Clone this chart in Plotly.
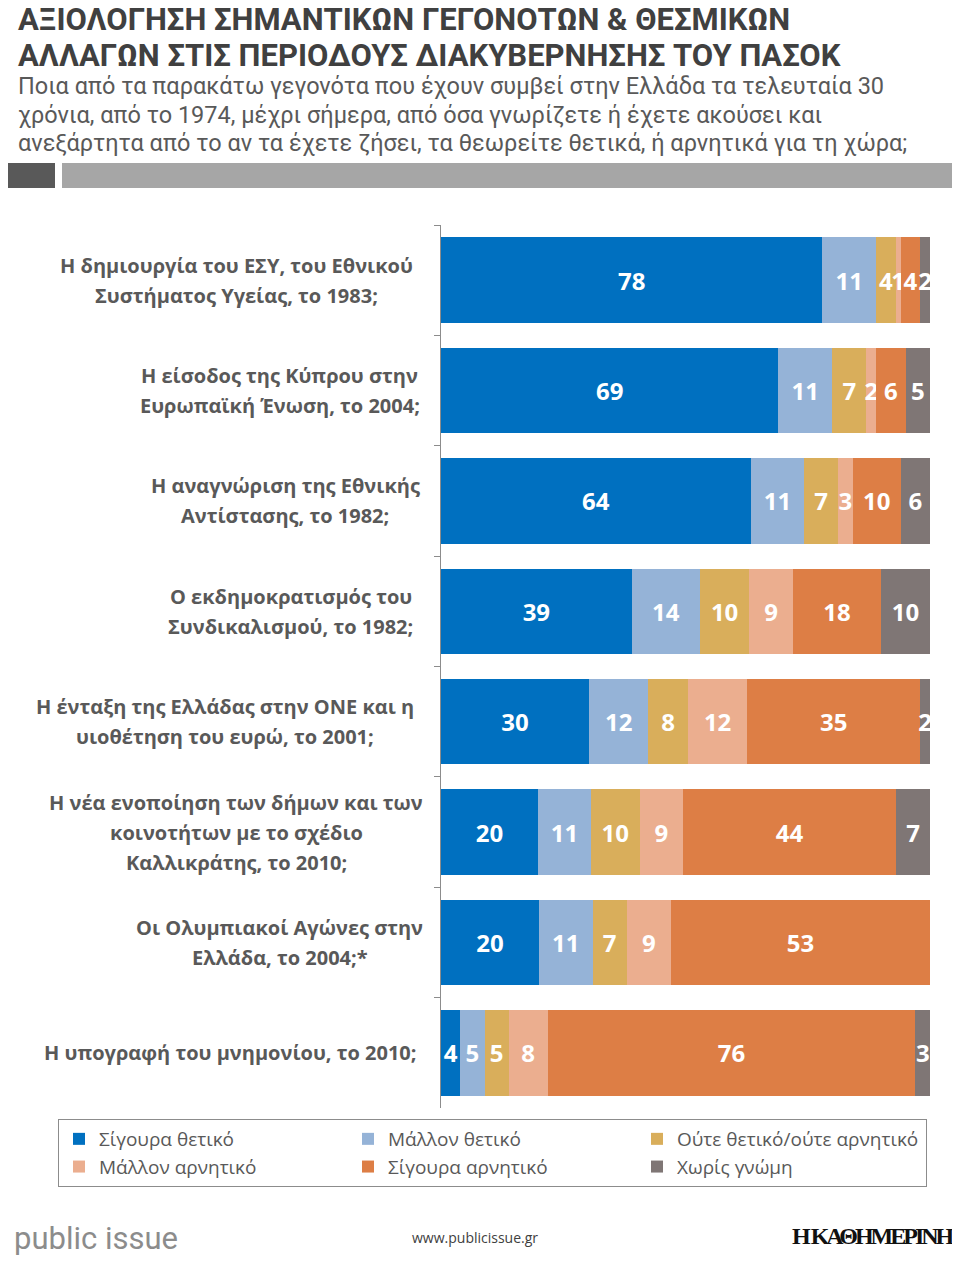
import plotly.graph_objects as go

# page is offset by the 8px body margin, so the figure is 952x1255
FW, FH = 952, 1255
OFF = 8


def X(p):
    return (p - OFF) / FW


def Y(p):
    return 1 - (p - OFF) / FH


categories = [
    "Η δημιουργία του ΕΣΥ, του Εθνικού<br>Συστήματος Υγείας, το 1983;",
    "Η είσοδος της Κύπρου στην<br>Ευρωπαϊκή Ένωση, το 2004;",
    "Η αναγνώριση της Εθνικής<br>Αντίστασης, το 1982;",
    "Ο εκδημοκρατισμός του<br>Συνδικαλισμού, το 1982;",
    "Η ένταξη της Ελλάδας στην ΟΝΕ και η<br>υιοθέτηση του ευρώ, το 2001;",
    "Η νέα ενοποίηση των δήμων και των<br>κοινοτήτων με το σχέδιο<br>Καλλικράτης, το 2010;",
    "Οι Ολυμπιακοί Αγώνες στην<br>Ελλάδα, το 2004;*",
    "Η υπογραφή του μνημονίου, το 2010;",
]

series_names = ["Σίγουρα θετικό", "Μάλλον θετικό", "Ούτε θετικό/ούτε αρνητικό",
                "Μάλλον αρνητικό", "Σίγουρα αρνητικό", "Χωρίς γνώμη"]

sigoura_thetiko = [78, 69, 64, 39, 30, 20, 20, 4]
mallon_thetiko = [11, 11, 11, 14, 12, 11, 11, 5]
oute = [4, 7, 7, 10, 8, 10, 7, 5]
mallon_arnitiko = [1, 2, 3, 9, 12, 9, 9, 8]
sigoura_arnitiko = [4, 6, 10, 18, 35, 44, 53, 76]
xoris_gnomi = [2, 5, 6, 10, 2, 7, 0, 3]

series_values = [sigoura_thetiko, mallon_thetiko, oute, mallon_arnitiko, sigoura_arnitiko, xoris_gnomi]
colors = ["#0070C0", "#95B3D7", "#D9AE5B", "#EBAE8F", "#DD7E45", "#7F7675"]

title_lines = ["ΑΞΙΟΛΟΓΗΣΗ ΣΗΜΑΝΤΙΚΩΝ ΓΕΓΟΝΟΤΩΝ & ΘΕΣΜΙΚΩΝ",
               "ΑΛΛΑΓΩΝ ΣΤΙΣ ΠΕΡΙΟΔΟΥΣ ΔΙΑΚΥΒΕΡΝΗΣΗΣ ΤΟΥ ΠΑΣΟΚ"]
subtitle_lines = ["Ποια από τα παρακάτω γεγονότα που έχουν συμβεί στην Ελλάδα τα τελευταία 30",
                  "χρόνια, από το 1974, μέχρι σήμερα, από όσα γνωρίζετε ή έχετε ακούσει και",
                  "ανεξάρτητα από το αν τα έχετε ζήσει, τα θεωρείτε θετικά, ή αρνητικά για τη χώρα;"]

LABEL_FONT = "Open Sans"
TITLE_FONT = "Roboto"

fig = go.Figure()
for name, vals, col in zip(series_names, series_values, colors):
    fig.add_trace(go.Bar(
        y=categories, x=vals, name=name, orientation="h",
        marker=dict(color=col, line=dict(width=0)),
        text=[str(v) if v > 0 else "" for v in vals],
        textposition="inside", insidetextanchor="middle", textangle=0,
        textfont=dict(family=LABEL_FONT, size=24, color="white", weight="bold"),
        cliponaxis=False, hoverinfo="skip",
    ))

fig.update_layout(
    width=FW, height=FH,
    margin=dict(l=0, r=0, t=0, b=0),
    paper_bgcolor="white", plot_bgcolor="white",
    barmode="stack", barnorm="percent", bargap=0.225,
    uniformtext=dict(mode="show", minsize=24),
    xaxis=dict(domain=[X(441), X(930)], range=[0, 100], visible=False, fixedrange=True),
    yaxis=dict(domain=[Y(1108), Y(225)], autorange="reversed",
               showline=True, linecolor="#8C8C8C", linewidth=1,
               ticks="outside", tickson="boundaries", ticklen=6, tickcolor="#8C8C8C",
               showticklabels=False, showgrid=False, zeroline=False),
    showlegend=True,
    legend=dict(orientation="h", x=X(58), y=Y(1119), xanchor="left", yanchor="top",
                entrywidth=244, entrywidthmode="pixels", traceorder="normal",
                bordercolor="#8C8C8C", borderwidth=1, bgcolor="white",
                font=dict(family=LABEL_FONT, size=19, color="#595959")),
    font=dict(family=LABEL_FONT),
)

# Category labels: one annotation per line (Excel-like line spacing), lines centred on the block
LINE_H = 30
CHAR_W = 10.9  # approx. width per character, Open Sans bold 20px
for cat in categories:
    lines = cat.split("<br>")
    n = len(lines)
    half_block = max(len(l) for l in lines) * CHAR_W / 2
    for i, line in enumerate(lines):
        fig.add_annotation(x=X(416) - half_block / FW, xref="paper", y=cat, yref="y",
                           text="<b>" + line + "</b>",
                           xanchor="center", yanchor="middle", align="center", showarrow=False,
                           yshift=((n - 1) / 2 - i) * LINE_H,
                           font=dict(family=LABEL_FONT, size=20, color="#595959"))

# Title & subtitle
for i, line in enumerate(title_lines):
    fig.add_annotation(x=X(16), y=Y(19 + 36 * i), xref="paper", yref="paper",
                       xanchor="left", yanchor="middle", text=line, showarrow=False,
                       font=dict(family=TITLE_FONT, size=31, color="#404040", weight="bold"))
for i, line in enumerate(subtitle_lines):
    fig.add_annotation(x=X(16), y=Y(86 + 28.5 * i), xref="paper", yref="paper",
                       xanchor="left", yanchor="middle", text=line, showarrow=False,
                       font=dict(family=TITLE_FONT, size=23.5, color="#595959"))

# Decorative bars under subtitle
fig.add_shape(type="rect", xref="paper", yref="paper", x0=X(3), x1=X(55),
              y0=Y(188), y1=Y(163), fillcolor="#595959", line=dict(width=0))
fig.add_shape(type="rect", xref="paper", yref="paper", x0=X(62), x1=1,
              y0=Y(188), y1=Y(163), fillcolor="#A6A6A6", line=dict(width=0))

# Footer
fig.add_annotation(x=X(12), y=Y(1238), xref="paper", yref="paper", xanchor="left", yanchor="middle",
                   text="public issue", showarrow=False,
                   font=dict(family=TITLE_FONT, size=31, color="#8C8C8C"))
fig.add_annotation(x=X(475), y=Y(1237), xref="paper", yref="paper", xanchor="center", yanchor="middle",
                   text="www.publicissue.gr", showarrow=False,
                   font=dict(family=LABEL_FONT, size=14, color="#404040"))
fig.add_annotation(x=X(957), y=Y(1236), xref="paper", yref="paper", xanchor="right", yanchor="middle",
                   text="<span style='letter-spacing:-3px'>Η ΚΑΘΗΜΕΡΙΝΗ</span>", showarrow=False,
                   font=dict(family="Liberation Serif, DejaVu Serif", size=24, color="#111111", weight="bold"))

fig.write_html("out.html")
